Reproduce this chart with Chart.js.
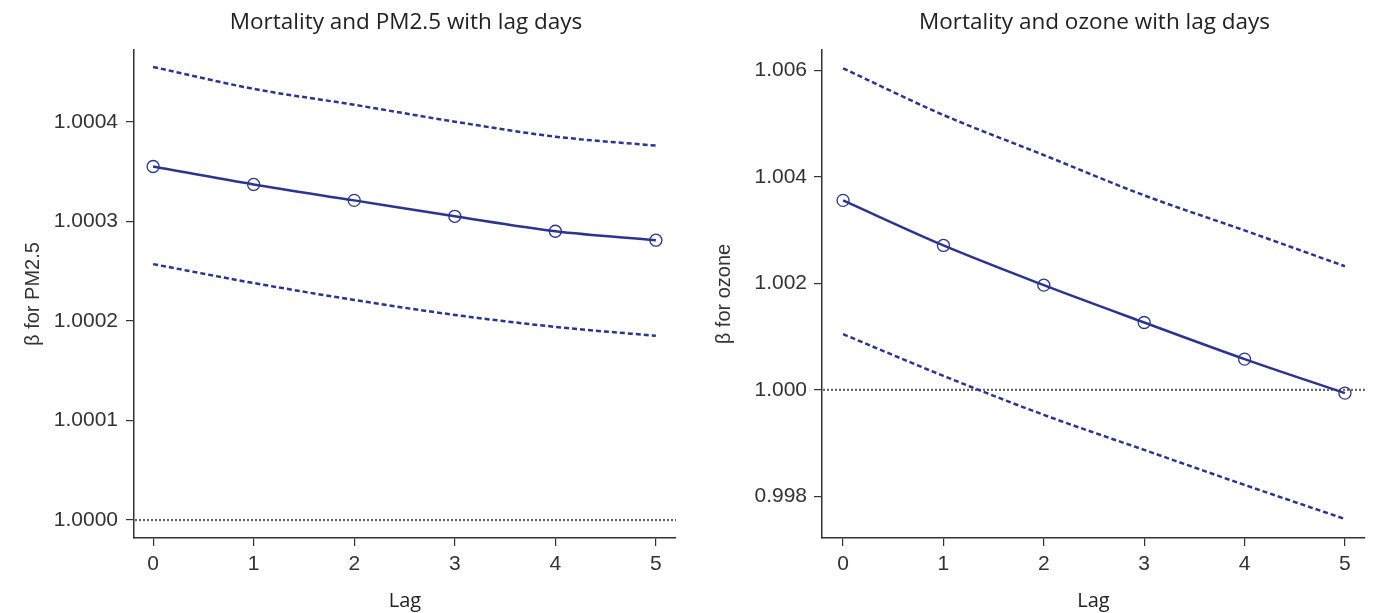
<!DOCTYPE html>
<html>
<head>
<meta charset="utf-8">
<script src="https://cdn.jsdelivr.net/npm/chart.js@4.4.1/dist/chart.umd.min.js"></script>
<style>
  html, body { margin: 0; padding: 0; background: #fff; }
  #wrap { position: relative; width: 1375px; height: 613px; }
  .box { position: absolute; top: 0; height: 613px; }
  #left-box { left: 0; width: 690px; }
  #right-box { left: 690px; width: 685px; }
</style>
</head>
<body>
<div id="wrap">
  <div class="box" id="left-box"><canvas id="pmChart"></canvas></div>
  <div class="box" id="right-box"><canvas id="ozoneChart"></canvas></div>
</div>
<script>
// giorni di lag (asse x)
const lags = [0, 1, 2, 3, 4, 5]

// PM2.5: stima e intervallo di confidenza
const pmBeta = [1.000355, 1.000337, 1.000321, 1.000305, 1.00029, 1.000281]
const pmUpper = [1.000455, 1.000433, 1.000417, 1.0004, 1.000385, 1.000376]
const pmLower = [1.000257, 1.000238, 1.000221, 1.000206, 1.000194, 1.000185]
const pmTicks = [1.0, 1.0001, 1.0002, 1.0003, 1.0004]

// ozono: stima e intervallo di confidenza
const ozBeta = [1.003562, 1.002715, 1.001968, 1.001266, 1.000578, 0.999938]
const ozUpper = [1.006045, 1.005167, 1.004414, 1.003656, 1.002997, 1.002324]
const ozLower = [1.001048, 1.000263, 0.99953, 0.998871, 0.998213, 0.997573]
const ozTicks = [0.998, 1.0, 1.002, 1.004, 1.006]

const navy = '#2b3590'
const axisColor = '#333'
const tickFont = { family: 'Liberation Sans, Arial, sans-serif', size: 21 }
const yTitleFont = { family: 'Liberation Sans, Arial, sans-serif', size: 20 }
const xTitleFont = { family: 'Open Sans, sans-serif', size: 20 }

// titolo centrato sopra l'area del grafico
const plotTitle = {
  id: 'plotTitle',
  afterDraw(chart, args, opts) {
    const ctx = chart.ctx
    const area = chart.chartArea
    ctx.save()
    ctx.font = '22.5px "Open Sans", sans-serif'
    ctx.fillStyle = '#222'
    ctx.textAlign = 'center'
    ctx.textBaseline = 'alphabetic'
    ctx.fillText(opts.text, (area.left + area.right) / 2 + 1, 28.5)
    ctx.restore()
  },
}

// linea tratteggiata grigia a beta = 1
const refLine = {
  id: 'refLine',
  beforeDatasetsDraw(chart) {
    const ctx = chart.ctx
    const area = chart.chartArea
    const y = chart.scales.y.getPixelForValue(1)
    ctx.save()
    ctx.strokeStyle = '#666'
    ctx.lineWidth = 2.2
    ctx.setLineDash([2, 2])
    ctx.beginPath()
    ctx.moveTo(area.left + 1, y)
    ctx.lineTo(area.right, y)
    ctx.stroke()
    ctx.restore()
  },
}

function toPoints(values) {
  return lags.map((l, i) => ({ x: l, y: values[i] }))
}

function makeChart(id, cfg) {
  const ctx = document.getElementById(id).getContext('2d')
  return new Chart(ctx, {
    type: 'line',
    data: {
      datasets: [
        {
          label: 'beta',
          data: toPoints(cfg.beta),
          borderColor: navy,
          borderWidth: 2.5,
          pointRadius: 6,
          pointBorderWidth: 1.3,
          pointBackgroundColor: 'rgba(255,255,255,0)',
          pointBorderColor: navy,
          cubicInterpolationMode: 'monotone',
        },
        {
          label: 'upper',
          data: toPoints(cfg.upper),
          borderColor: navy,
          borderWidth: 2.5,
          borderDash: [5, 3],
          pointRadius: 0,
          cubicInterpolationMode: 'monotone',
        },
        {
          label: 'lower',
          data: toPoints(cfg.lower),
          borderColor: navy,
          borderWidth: 2.5,
          borderDash: [5, 3],
          pointRadius: 0,
          cubicInterpolationMode: 'monotone',
        },
      ],
    },
    options: {
      responsive: true,
      maintainAspectRatio: false,
      animation: false,
      events: [],
      layout: { padding: { left: 10, right: cfg.padRight, top: 50, bottom: 0 } },
      plugins: {
        legend: { display: false },
        tooltip: { enabled: false },
        plotTitle: { text: cfg.title },
      },
      scales: {
        x: {
          type: 'linear',
          min: cfg.xMin,
          max: cfg.xMax,
          afterFit: (s) => { s.height = 75 },
          afterBuildTicks: (s) => { s.ticks = lags.map((v) => ({ value: v })) },
          border: { display: true, color: axisColor, width: 1.5 },
          grid: { drawOnChartArea: false, drawTicks: true, tickLength: 8, color: axisColor, lineWidth: 1.2 },
          ticks: { font: tickFont, color: '#333', padding: 6, maxRotation: 0 },
          title: {
            display: true,
            text: 'Lag',
            font: xTitleFont,
            color: '#222',
            padding: { top: 0, bottom: 0 },
          },
        },
        y: {
          type: 'linear',
          min: cfg.yMin,
          max: cfg.yMax,
          afterFit: (s) => { s.width = cfg.yWidth },
          afterBuildTicks: (s) => { s.ticks = cfg.ticks.map((v) => ({ value: v })) },
          border: { display: true, color: axisColor, width: 1.5 },
          grid: { drawOnChartArea: false, drawTicks: true, tickLength: 8, color: axisColor, lineWidth: 1.2 },
          ticks: {
            font: tickFont,
            color: '#333',
            padding: cfg.yTickPad,
            callback: (v) => v.toFixed(cfg.digits),
          },
          title: {
            display: true,
            text: cfg.yTitle,
            font: yTitleFont,
            color: '#333',
            padding: { top: cfg.yTitlePad, bottom: 0 },
          },
        },
      },
    },
    plugins: [plotTitle, refLine],
  })
}

const pmChart = makeChart('pmChart', {
  title: 'Mortality and PM2.5 with lag days',
  beta: pmBeta,
  upper: pmUpper,
  lower: pmLower,
  ticks: pmTicks,
  digits: 4,
  yTitle: 'β for PM2.5',
  yTitlePad: 11,
  yTickPad: 8,
  yWidth: 124,
  padRight: 14,
  xMin: -0.19,
  xMax: 5.2,
  yMin: 0.999982,
  yMax: 1.000472,
})

const ozoneChart = makeChart('ozoneChart', {
  title: 'Mortality and ozone with lag days',
  beta: ozBeta,
  upper: ozUpper,
  lower: ozLower,
  ticks: ozTicks,
  digits: 3,
  yTitle: 'β for ozone',
  yTitlePad: 12,
  yTickPad: 7,
  yWidth: 122,
  padRight: 10,
  xMin: -0.21,
  xMax: 5.2,
  yMin: 0.997215,
  yMax: 1.006389,
})
</script>
</body>
</html>
